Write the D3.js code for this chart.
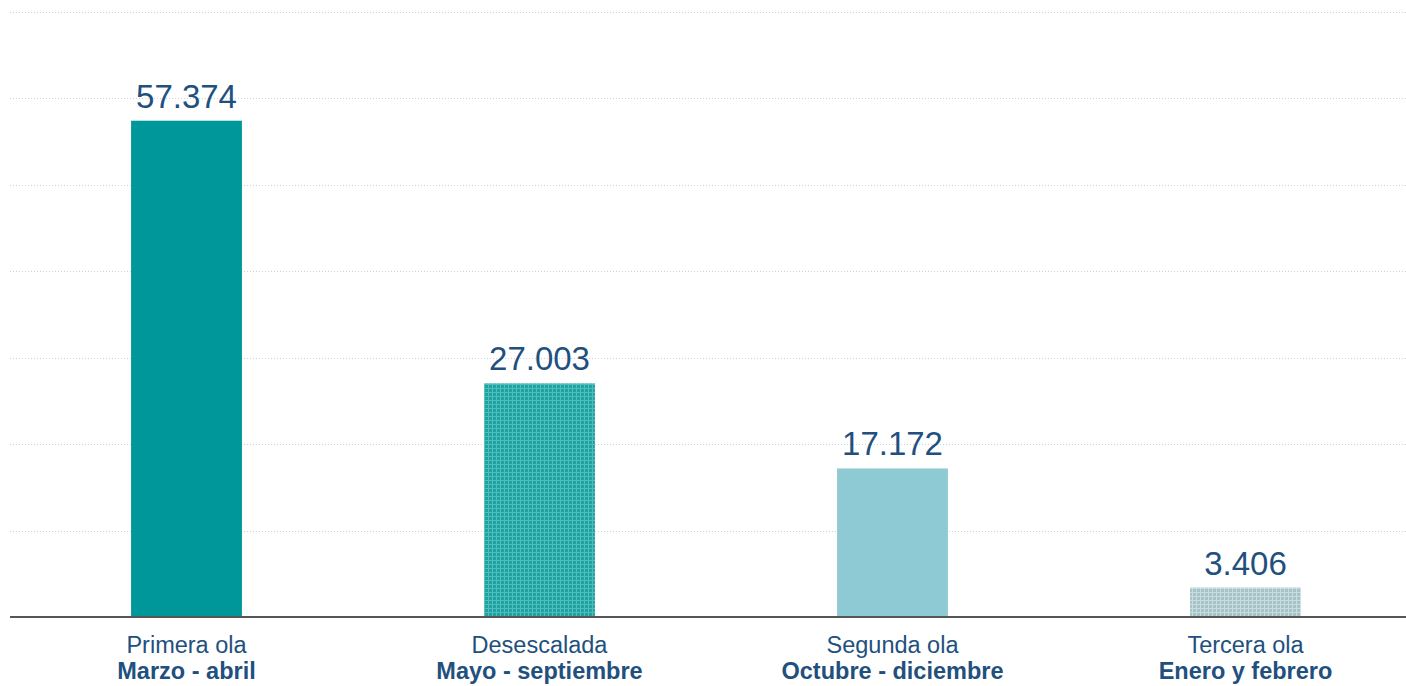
<!DOCTYPE html>
<html>
<head>
<meta charset="utf-8">
<script src="https://cdn.jsdelivr.net/npm/d3@7"></script>
<style>
  body { margin: 0; background: #fff; }
  svg { display: block; font-family: "Liberation Sans", Arial, sans-serif; }
</style>
</head>
<body>
<div id="chart"></div>
<script>
// periods (top line) and months (bold line)
const periods = ["Primera ola", "Desescalada", "Segunda ola", "Tercera ola"];
const months = ["Marzo - abril", "Mayo - septiembre", "Octubre - diciembre", "Enero y febrero"];
const values = [57374, 27003, 17172, 3406];
const gridTicks = [10000, 20000, 30000, 40000, 50000, 60000, 70000];

const width = 1406;
const height = 686;
const textColor = "#22507e";

const svg = d3.select("#chart")
  .append("svg")
  .attr("width", width)
  .attr("height", height);

const defs = svg.append("defs");

// little grid patterns for the hatched bars
function gridPattern(id, base, line) {
  const p = defs.append("pattern")
    .attr("id", id)
    .attr("width", 4)
    .attr("height", 4)
    .attr("patternUnits", "userSpaceOnUse");
  p.append("rect").attr("width", 4).attr("height", 4).attr("fill", base);
  p.append("rect").attr("x", 0).attr("y", 0).attr("width", 4).attr("height", 1).attr("fill", line);
  p.append("rect").attr("x", 0).attr("y", 0).attr("width", 1).attr("height", 4).attr("fill", line);
}
gridPattern("pat-teal", "#1ea3a3", "#52bcbc");
gridPattern("pat-grey", "#a6c4c8", "#c9dde0");

const fills = ["#00979a", "url(#pat-teal)", "#8ecad3", "url(#pat-grey)"];

const x = d3.scaleBand()
  .domain(periods)
  .range([10, 1422])
  .paddingInner(0.686)
  .paddingOuter(0.343);

const y = d3.scaleLinear()
  .domain([0, 70000])
  .range([617, 11.5]);

// dotted gridlines
svg.append("g")
  .selectAll("line")
  .data(gridTicks)
  .join("line")
  .attr("x1", 10)
  .attr("x2", width)
  .attr("y1", d => Math.round(y(d)) + 0.5)
  .attr("y2", d => Math.round(y(d)) + 0.5)
  .attr("stroke", "#c9d1d9")
  .attr("stroke-width", 1)
  .attr("stroke-dasharray", "1,2");

// bars
svg.append("g")
  .selectAll("rect")
  .data(values)
  .join("rect")
  .attr("x", (d, i) => x(periods[i]))
  .attr("y", d => y(d))
  .attr("width", x.bandwidth())
  .attr("height", d => y(0) - y(d))
  .attr("fill", (d, i) => fills[i]);

// baseline
svg.append("line")
  .attr("x1", 10)
  .attr("x2", width)
  .attr("y1", y(0))
  .attr("y2", y(0))
  .attr("stroke", "#555")
  .attr("stroke-width", 2);

// value labels
const fmt = d3.formatLocale({ decimal: ",", thousands: ".", grouping: [3], currency: ["", "€"] }).format(",d");

svg.append("g")
  .selectAll("text")
  .data(values)
  .join("text")
  .attr("x", (d, i) => x(periods[i]) + x.bandwidth() / 2)
  .attr("y", d => y(d) - 13)
  .attr("text-anchor", "middle")
  .attr("fill", textColor)
  .style("font-size", "33px")
  .text(d => fmt(d));

// category labels
const cat = svg.append("g")
  .selectAll("text")
  .data(periods)
  .join("text")
  .attr("x", d => x(d) + x.bandwidth() / 2)
  .attr("text-anchor", "middle")
  .attr("fill", textColor)
  .style("font-size", "23.5px");

cat.append("tspan")
  .attr("x", d => x(d) + x.bandwidth() / 2)
  .attr("y", 653)
  .text(d => d);

cat.append("tspan")
  .attr("x", d => x(d) + x.bandwidth() / 2)
  .attr("y", 679)
  .style("font-weight", "bold")
  .text((d, i) => months[i]);
</script>
</body>
</html>
